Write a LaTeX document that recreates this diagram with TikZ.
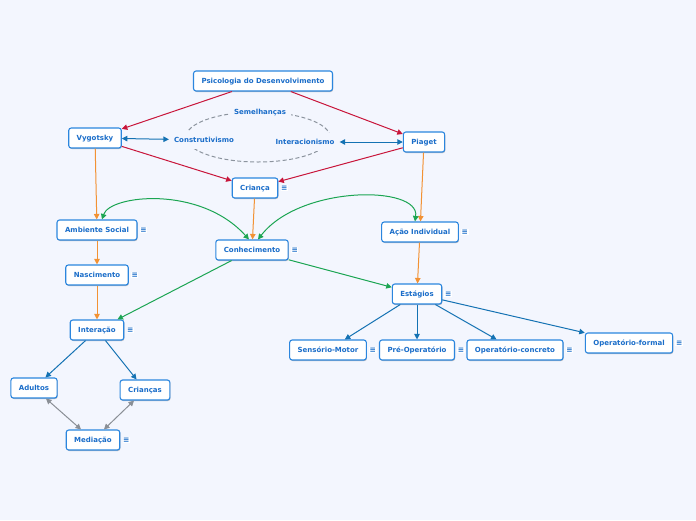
\documentclass[tikz,border=0pt]{standalone}
\usepackage{fontspec}
\setmainfont{DejaVu Sans}
\usetikzlibrary{arrows.meta,shadows,calc}
\definecolor{bg}{HTML}{F3F6FE}
\definecolor{boxborder}{HTML}{2B86DE}
\definecolor{txt}{HTML}{1A6DC9}
\definecolor{cred}{HTML}{C8153A}
\definecolor{corange}{HTML}{F29234}
\definecolor{cgreen}{HTML}{1BA552}
\definecolor{cblue}{HTML}{1472B3}
\definecolor{cgray}{HTML}{8A8F96}
\definecolor{cdash}{HTML}{8C949E}
\begin{document}
\begin{tikzpicture}[x=1pt,y=-1pt,
  topic/.style={draw=boxborder, line width=1.1pt, fill=white, rounded corners=2.5pt,
    minimum height=20pt, inner xsep=8pt, inner ysep=0pt, text height=5.4pt, text depth=1.4pt,
    font=\fontsize{7}{8}\selectfont\bfseries, text=txt,
    drop shadow={shadow xshift=0.6pt, shadow yshift=-1pt, opacity=0.25, fill=black}},
  free/.style={fill=bg, inner xsep=5pt, inner ysep=3pt, text height=5.4pt, text depth=1.4pt,
    font=\fontsize{7}{8}\selectfont\bfseries, text=txt},
  noteic/.style={font=\fontsize{7.5}{8}\selectfont\bfseries, text=txt, inner sep=0.6pt, fill=white, anchor=west},
  ar/.style={-{Triangle[length=5.5pt,width=5.5pt]}, line width=1pt},
  dar/.style={{Triangle[length=5.5pt,width=5.5pt]}-{Triangle[length=5.5pt,width=5.5pt]}, line width=1pt}
]
\fill[bg] (0,0) rectangle (696,520);
\useasboundingbox (0,0) rectangle (696,520);

% dashed loop
\draw[cdash, line width=1pt, dash pattern=on 4pt off 2.5pt] (258,137) ellipse [x radius=72, y radius=25];
\node[free] (sem) at (260,112) {Semelhanças};
\node[free, inner ysep=6pt] (con) at (204,140) {Construtivismo};
\node[free, inner ysep=6pt] (int) at (305,142) {Interacionismo};

% topics
\node[topic] (psi) at (263,81) {Psicologia do Desenvolvimento};
\node[topic] (vyg) at (95,138) {Vygotsky};
\node[topic] (pia) at (424,142) {Piaget};
\node[topic] (cri) at (255,188) {Criança};
\node[topic] (amb) at (97,230) {Ambiente Social};
\node[topic] (conh) at (252,250) {Conhecimento};
\node[topic] (aca) at (420,232) {Ação Individual};
\node[topic] (nas) at (97,275) {Nascimento};
\node[topic] (inter) at (97,330) {Interação};
\node[topic] (est) at (417,294) {Estágios};
\node[topic] (sen) at (328,350) {Sensório-Motor};
\node[topic] (pre) at (417,350) {Pré-Operatório};
\node[topic] (opc) at (515,350) {Operatório-concreto};
\node[topic] (opf) at (629,343) {Operatório-formal};
\node[topic] (adu) at (34,388) {Adultos};
\node[topic] (crs) at (145,390) {Crianças};
\node[topic] (med) at (93,440) {Mediação};

% note icons
\node[noteic] (cri-n) at ($(cri.east)+(2,0)$) {≡};
\node[noteic] (amb-n) at ($(amb.east)+(2,0)$) {≡};
\node[noteic] (conh-n) at ($(conh.east)+(2,0)$) {≡};
\node[noteic] (aca-n) at ($(aca.east)+(2,0)$) {≡};
\node[noteic] (nas-n) at ($(nas.east)+(2,0)$) {≡};
\node[noteic] (inter-n) at ($(inter.east)+(2,0)$) {≡};
\node[noteic] (est-n) at ($(est.east)+(2,0)$) {≡};
\node[noteic] (sen-n) at ($(sen.east)+(2,0)$) {≡};
\node[noteic] (pre-n) at ($(pre.east)+(2,0)$) {≡};
\node[noteic] (opc-n) at ($(opc.east)+(2,0)$) {≡};
\node[noteic] (opf-n) at ($(opf.east)+(2,0)$) {≡};
\node[noteic] (med-n) at ($(med.east)+(2,0)$) {≡};

% red
\draw[ar, cred] (psi) -- (vyg);
\draw[ar, cred] (psi) -- (pia);
\draw[ar, cred] (vyg) -- (cri);
\draw[ar, cred] (pia) -- (cri);

% blue double to free texts
\draw[dar, cblue] (vyg) -- (con);
\draw[dar, cblue] (pia) -- (int);

% orange
\draw[ar, corange] (vyg) -- (amb);
\draw[ar, corange] (cri) -- (conh);
\draw[ar, corange] (pia) -- (aca);
\draw[ar, corange] (amb) -- (nas);
\draw[ar, corange] (nas) -- (inter);
\draw[ar, corange] (aca) -- (est);

% green
\draw[ar, cgreen] (conh) -- (inter);
\draw[ar, cgreen] (conh) -- (est);
\draw[dar, cgreen] ($(conh.north)+(-3,0)$) .. controls (200,185) and (110,195) .. ($(amb.north)+(5,0)$);
\draw[dar, cgreen] ($(conh.north)+(6,0)$) .. controls (300,185) and (420,185) .. ($(aca.north)+(-5,0)$);

% blue
\draw[ar, cblue] (est) -- (sen);
\draw[ar, cblue] (est) -- (pre);
\draw[ar, cblue] (est) -- (opc);
\draw[ar, cblue] (est) -- (opf);
\draw[ar, cblue] (inter) -- (adu);
\draw[ar, cblue] (inter) -- (crs);

% gray
\draw[dar, cgray] (adu) -- (med);
\draw[dar, cgray] (crs) -- (med);
\end{tikzpicture}
\end{document}
